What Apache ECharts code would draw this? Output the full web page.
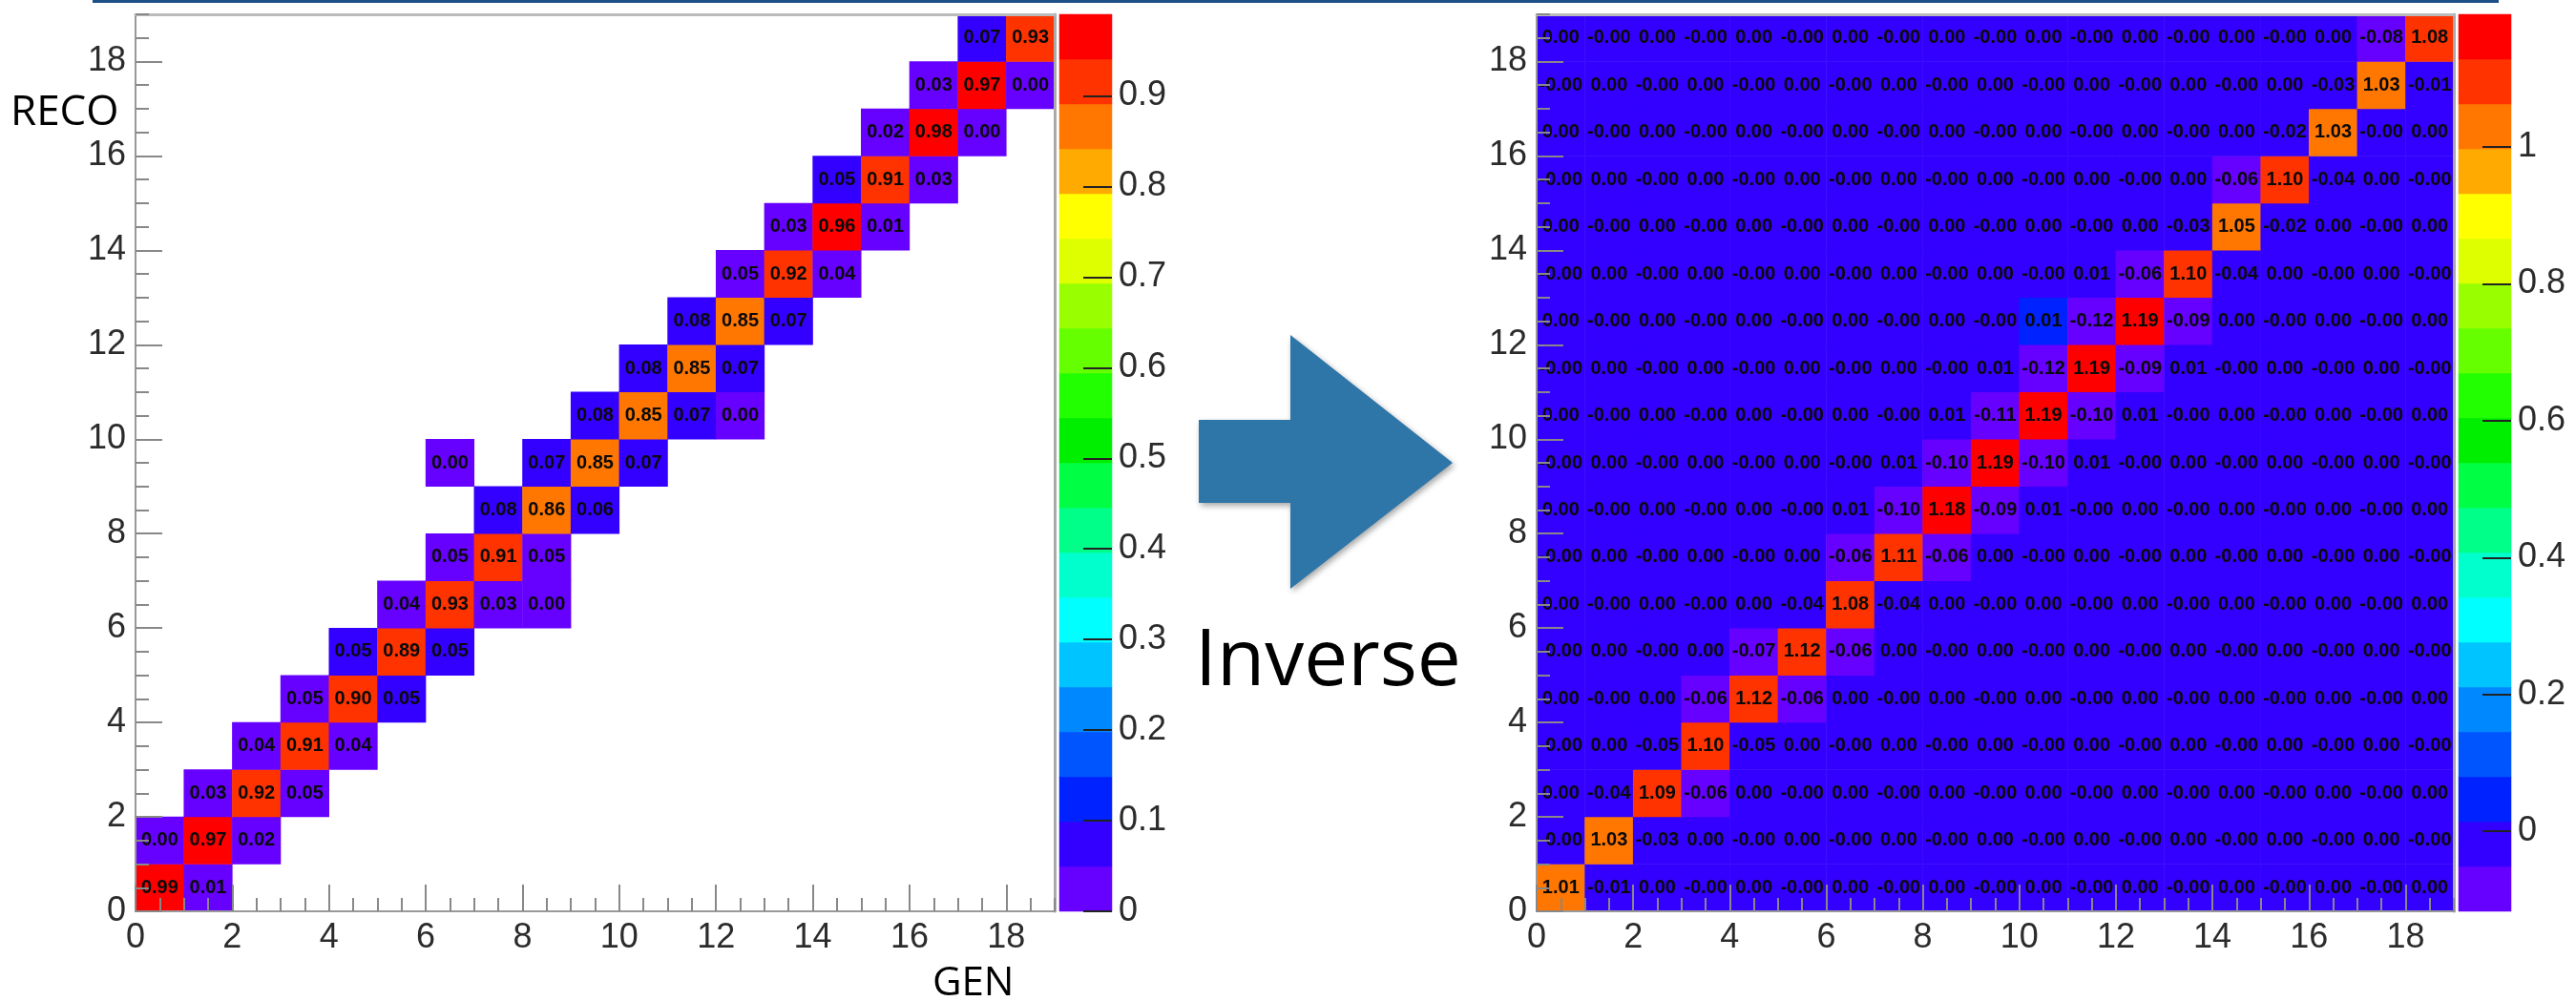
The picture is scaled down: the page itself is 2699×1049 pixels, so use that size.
<!DOCTYPE html>
<html>
<head>
<meta charset="utf-8">
<script src="https://cdn.jsdelivr.net/npm/echarts@6/dist/echarts.min.js"></script>
<style>
  html, body { margin: 0; padding: 0; background: #fff; }
  #main { width: 2699px; height: 1049px; }
</style>
</head>
<body>
<div id="main"></div>
<script>
// 两个 19x19 响应矩阵：左边原矩阵 (GEN x RECO)，右边是它的逆矩阵
const bins = [0, 1, 2, 3, 4, 5, 6, 7, 8, 9, 10, 11, 12, 13, 14, 15, 16, 17, 18];

// 左图：只有非空的格子 [GEN, RECO, 值]
// 0.05 的格子颜色有两种，所以按颜色估计成 0.048 / 0.052
const leftCells = [
  [0, 0, 0.99], [1, 0, 0.01],
  [0, 1, 0.00], [1, 1, 0.97], [2, 1, 0.02],
  [1, 2, 0.03], [2, 2, 0.92], [3, 2, 0.048],
  [2, 3, 0.04], [3, 3, 0.91], [4, 3, 0.04],
  [3, 4, 0.048], [4, 4, 0.90], [5, 4, 0.052],
  [4, 5, 0.052], [5, 5, 0.892], [6, 5, 0.052],
  [5, 6, 0.04], [6, 6, 0.93], [7, 6, 0.03], [8, 6, 0.00],
  [6, 7, 0.048], [7, 7, 0.91], [8, 7, 0.048],
  [7, 8, 0.08], [8, 8, 0.86], [9, 8, 0.06],
  [6, 9, 0.00], [8, 9, 0.07], [9, 9, 0.85], [10, 9, 0.07],
  [9, 10, 0.08], [10, 10, 0.85], [11, 10, 0.07], [12, 10, 0.00],
  [10, 11, 0.08], [11, 11, 0.85], [12, 11, 0.07],
  [11, 12, 0.08], [12, 12, 0.85], [13, 12, 0.07],
  [12, 13, 0.048], [13, 13, 0.92], [14, 13, 0.04],
  [13, 14, 0.03], [14, 14, 0.96], [15, 14, 0.01],
  [14, 15, 0.052], [15, 15, 0.91], [16, 15, 0.03],
  [15, 16, 0.02], [16, 16, 0.98], [17, 16, 0.00],
  [16, 17, 0.03], [17, 17, 0.97], [18, 17, 0.00],
  [17, 18, 0.07], [18, 18, 0.93]
];

// 右图：每行一个 RECO bin，从 GEN=0 到 18
const m = -0.001; // 显示成 "-0.00" 的极小负数
const rightRows = [
  [1.01, -0.01, 0, m, 0, m, 0, m, 0, m, 0, m, 0, m, 0, m, 0, m, 0],
  [m, 1.03, -0.03, 0, m, 0, m, 0, m, 0, m, 0, m, 0, m, 0, m, 0, m],
  [0, -0.04, 1.09, -0.06, 0, m, 0, m, 0, m, 0, m, 0, m, 0, m, 0, m, 0],
  [m, 0, -0.05, 1.10, -0.05, 0, m, 0, m, 0, m, 0, m, 0, m, 0, m, 0, m],
  [0, m, 0, -0.06, 1.12, -0.06, 0, m, 0, m, 0, m, 0, m, 0, m, 0, m, 0],
  [m, 0, m, 0, -0.07, 1.12, -0.06, 0, m, 0, m, 0, m, 0, m, 0, m, 0, m],
  [0, m, 0, m, 0, -0.04, 1.08, -0.04, 0, m, 0, m, 0, m, 0, m, 0, m, 0],
  [m, 0, m, 0, m, 0, -0.06, 1.11, -0.06, 0, m, 0, m, 0, m, 0, m, 0, m],
  [0, m, 0, m, 0, m, 0.01, -0.10, 1.18, -0.09, 0.01, m, 0, m, 0, m, 0, m, 0],
  [m, 0, m, 0, m, 0, m, 0.01, -0.10, 1.19, -0.10, 0.01, m, 0, m, 0, m, 0, m],
  [0, m, 0, m, 0, m, 0, m, 0.01, -0.11, 1.19, -0.10, 0.01, m, 0, m, 0, m, 0],
  [m, 0, m, 0, m, 0, m, 0, m, 0.01, -0.12, 1.19, -0.09, 0.01, m, 0, m, 0, m],
  [0, m, 0, m, 0, m, 0, m, 0, m, 0.0145, -0.12, 1.19, -0.09, 0, m, 0, m, 0],
  [m, 0, m, 0, m, 0, m, 0, m, 0, m, 0.01, -0.06, 1.10, -0.04, 0, m, 0, m],
  [0, m, 0, m, 0, m, 0, m, 0, m, 0, m, 0, -0.03, 1.05, -0.02, 0, m, 0],
  [m, 0, m, 0, m, 0, m, 0, m, 0, m, 0, m, 0, -0.06, 1.10, -0.04, 0, m],
  [0, m, 0, m, 0, m, 0, m, 0, m, 0, m, 0, m, 0, -0.02, 1.03, m, 0],
  [m, 0, m, 0, m, 0, m, 0, m, 0, m, 0, m, 0, m, 0, -0.03, 1.03, -0.01],
  [0, m, 0, m, 0, m, 0, m, 0, m, 0, m, 0, m, 0, m, 0, -0.08, 1.08]
];

// 色标范围和刻度
const leftZMin = 0, leftZMax = 0.99;
const rightZMin = -0.117, rightZMax = 1.194;
const leftBarTicks = [0, 0.1, 0.2, 0.3, 0.4, 0.5, 0.6, 0.7, 0.8, 0.9];
const rightBarTicks = [0, 0.2, 0.4, 0.6, 0.8, 1];

// ROOT 默认调色板，20 个色阶，从下到上
const palette = ['#6600ff', '#3300ff', '#0022ff', '#0055ff', '#0088ff', '#00c4ff', '#00ffff', '#00ffcc',
  '#00ff88', '#00ff44', '#00ee00', '#22ff00', '#66ff00', '#99ff00', '#ddff00', '#ffff00',
  '#ffaa00', '#ff7700', '#ff3300', '#ff0000'];

const labelFont = 'Liberation Sans, Arial, sans-serif';

function makePieces(lo, hi) {
  const w = (hi - lo) / palette.length;
  return palette.map((c, i) => {
    const p = { color: c };
    if (i > 0) p.gte = lo + i * w;
    if (i < palette.length - 1) p.lt = lo + (i + 1) * w;
    return p;
  });
}

function barData(lo, hi) {
  const w = (hi - lo) / palette.length;
  return palette.map((c, i) => [0, i, lo + (i + 0.5) * w]);
}

const rightData = [];
rightRows.forEach((row, r) => row.forEach((v, c) => rightData.push([c, r, v])));

// 每个主图：分类轴(画格子) + 主刻度轴 + 副刻度轴 + 对边的框线
function mainX(gi) {
  return [
    { type: 'category', gridIndex: gi, data: bins, show: false },
    { type: 'value', gridIndex: gi, position: 'bottom', min: 0, max: 19, interval: 2, z: 5,
      axisLine: { show: true, onZero: false, lineStyle: { color: '#999', width: 2 } },
      axisTick: { show: true, inside: true, length: 28, lineStyle: { color: '#888', width: 2 } },
      axisLabel: { show: true, showMaxLabel: false, margin: 10, fontSize: 36, color: '#2b2b2b', fontFamily: labelFont },
      splitLine: { show: false } },
    { type: 'value', gridIndex: gi, position: 'bottom', min: 0, max: 19, interval: 0.5, z: 5,
      axisLine: { show: false, onZero: false },
      axisTick: { show: true, inside: true, length: 14, lineStyle: { color: '#888', width: 2 } },
      axisLabel: { show: false }, splitLine: { show: false } },
    { type: 'value', gridIndex: gi, position: 'top', min: 0, max: 19, z: 5,
      axisLine: { show: true, onZero: false, lineStyle: { color: '#bbb', width: 3 } },
      axisTick: { show: false }, axisLabel: { show: false }, splitLine: { show: false } }
  ];
}

function mainY(gi) {
  return [
    { type: 'category', gridIndex: gi, data: bins, show: false },
    { type: 'value', gridIndex: gi, position: 'left', min: 0, max: 19, interval: 2, z: 5,
      axisLine: { show: true, onZero: false, lineStyle: { color: '#999', width: 2 } },
      axisTick: { show: true, inside: true, length: 28, lineStyle: { color: '#888', width: 2 } },
      axisLabel: { show: true, showMaxLabel: false, margin: 10, fontSize: 36, color: '#2b2b2b', fontFamily: labelFont },
      splitLine: { show: false } },
    { type: 'value', gridIndex: gi, position: 'left', min: 0, max: 19, interval: 0.5, z: 5,
      axisLine: { show: false, onZero: false },
      axisTick: { show: true, inside: true, length: 14, lineStyle: { color: '#888', width: 2 } },
      axisLabel: { show: false }, splitLine: { show: false } },
    { type: 'value', gridIndex: gi, position: 'right', min: 0, max: 19, z: 5,
      axisLine: { show: true, onZero: false, lineStyle: { color: '#aaa', width: 3 } },
      axisTick: { show: false }, axisLabel: { show: false }, splitLine: { show: false } }
  ];
}

function barY(gi, lo, hi, ticks) {
  return [
    { type: 'category', gridIndex: gi, data: palette.map((c, i) => i), show: false },
    { type: 'value', gridIndex: gi, position: 'right', min: lo, max: hi, z: 5,
      axisLine: { show: false },
      axisTick: { show: true, inside: true, length: 30, customValues: ticks, lineStyle: { color: '#222', width: 2 } },
      axisLabel: { show: true, customValues: ticks, margin: 7, fontSize: 36, color: '#2b2b2b', fontFamily: labelFont,
        formatter: v => String(v) },
      splitLine: { show: false } }
  ];
}

const cellLabel = {
  show: true,
  formatter: p => p.value[2].toFixed(2),
  fontFamily: labelFont, fontWeight: 'bold', fontSize: 20, color: '#0a0a0a'
};

const option = {
  animation: false,
  backgroundColor: '#fff',
  grid: [
    { left: 142, top: 15, width: 963, height: 940 },
    { left: 1610, top: 15, width: 961, height: 940 },
    { left: 1110, top: 15, width: 55, height: 940 },
    { left: 2576, top: 15, width: 55, height: 940 }
  ],
  xAxis: [
    ...mainX(0),
    ...mainX(1),
    { type: 'category', gridIndex: 2, data: ['z'], show: false },
    { type: 'category', gridIndex: 3, data: ['z'], show: false }
  ],
  yAxis: [
    ...mainY(0),
    ...mainY(1),
    ...barY(2, leftZMin, leftZMax, leftBarTicks),
    ...barY(3, rightZMin, rightZMax, rightBarTicks)
  ],
  visualMap: [
    { type: 'piecewise', show: false, dimension: 2, seriesIndex: [0, 2], pieces: makePieces(leftZMin, leftZMax) },
    { type: 'piecewise', show: false, dimension: 2, seriesIndex: [1, 3], pieces: makePieces(rightZMin, rightZMax) }
  ],
  series: [
    { type: 'heatmap', xAxisIndex: 0, yAxisIndex: 0, data: leftCells, label: cellLabel, emphasis: { disabled: true } },
    { type: 'heatmap', xAxisIndex: 4, yAxisIndex: 4, data: rightData, label: cellLabel, emphasis: { disabled: true } },
    { type: 'heatmap', xAxisIndex: 8, yAxisIndex: 8, data: barData(leftZMin, leftZMax), emphasis: { disabled: true } },
    { type: 'heatmap', xAxisIndex: 9, yAxisIndex: 10, data: barData(rightZMin, rightZMax), emphasis: { disabled: true } }
  ],
  graphic: [
    { type: 'rect', shape: { x: 97, y: 0, width: 2521, height: 3 }, style: { fill: '#1d4f87' } },
    { type: 'polygon', shape: { points: [[1256, 440], [1352, 440], [1352, 351], [1522, 485], [1352, 617], [1352, 527], [1256, 527]] },
      style: { fill: '#2f76a8', shadowBlur: 6, shadowColor: 'rgba(0,0,0,0.35)', shadowOffsetX: 2, shadowOffsetY: 3 } },
    { type: 'text', x: 1252, y: 695, style: { text: 'Inverse', fontFamily: 'Open Sans', fontSize: 82, fill: '#000', align: 'left', verticalAlign: 'middle' } },
    { type: 'text', x: 11, y: 118, style: { text: 'RECO', fontFamily: 'Open Sans', fontSize: 44, fill: '#000', align: 'left', verticalAlign: 'middle' } },
    { type: 'text', x: 977, y: 1031, style: { text: 'GEN', fontFamily: 'Open Sans', fontSize: 42, fill: '#000', align: 'left', verticalAlign: 'middle' } }
  ]
};

const chart = echarts.init(document.getElementById('main'));
chart.setOption(option);
</script>
</body>
</html>
